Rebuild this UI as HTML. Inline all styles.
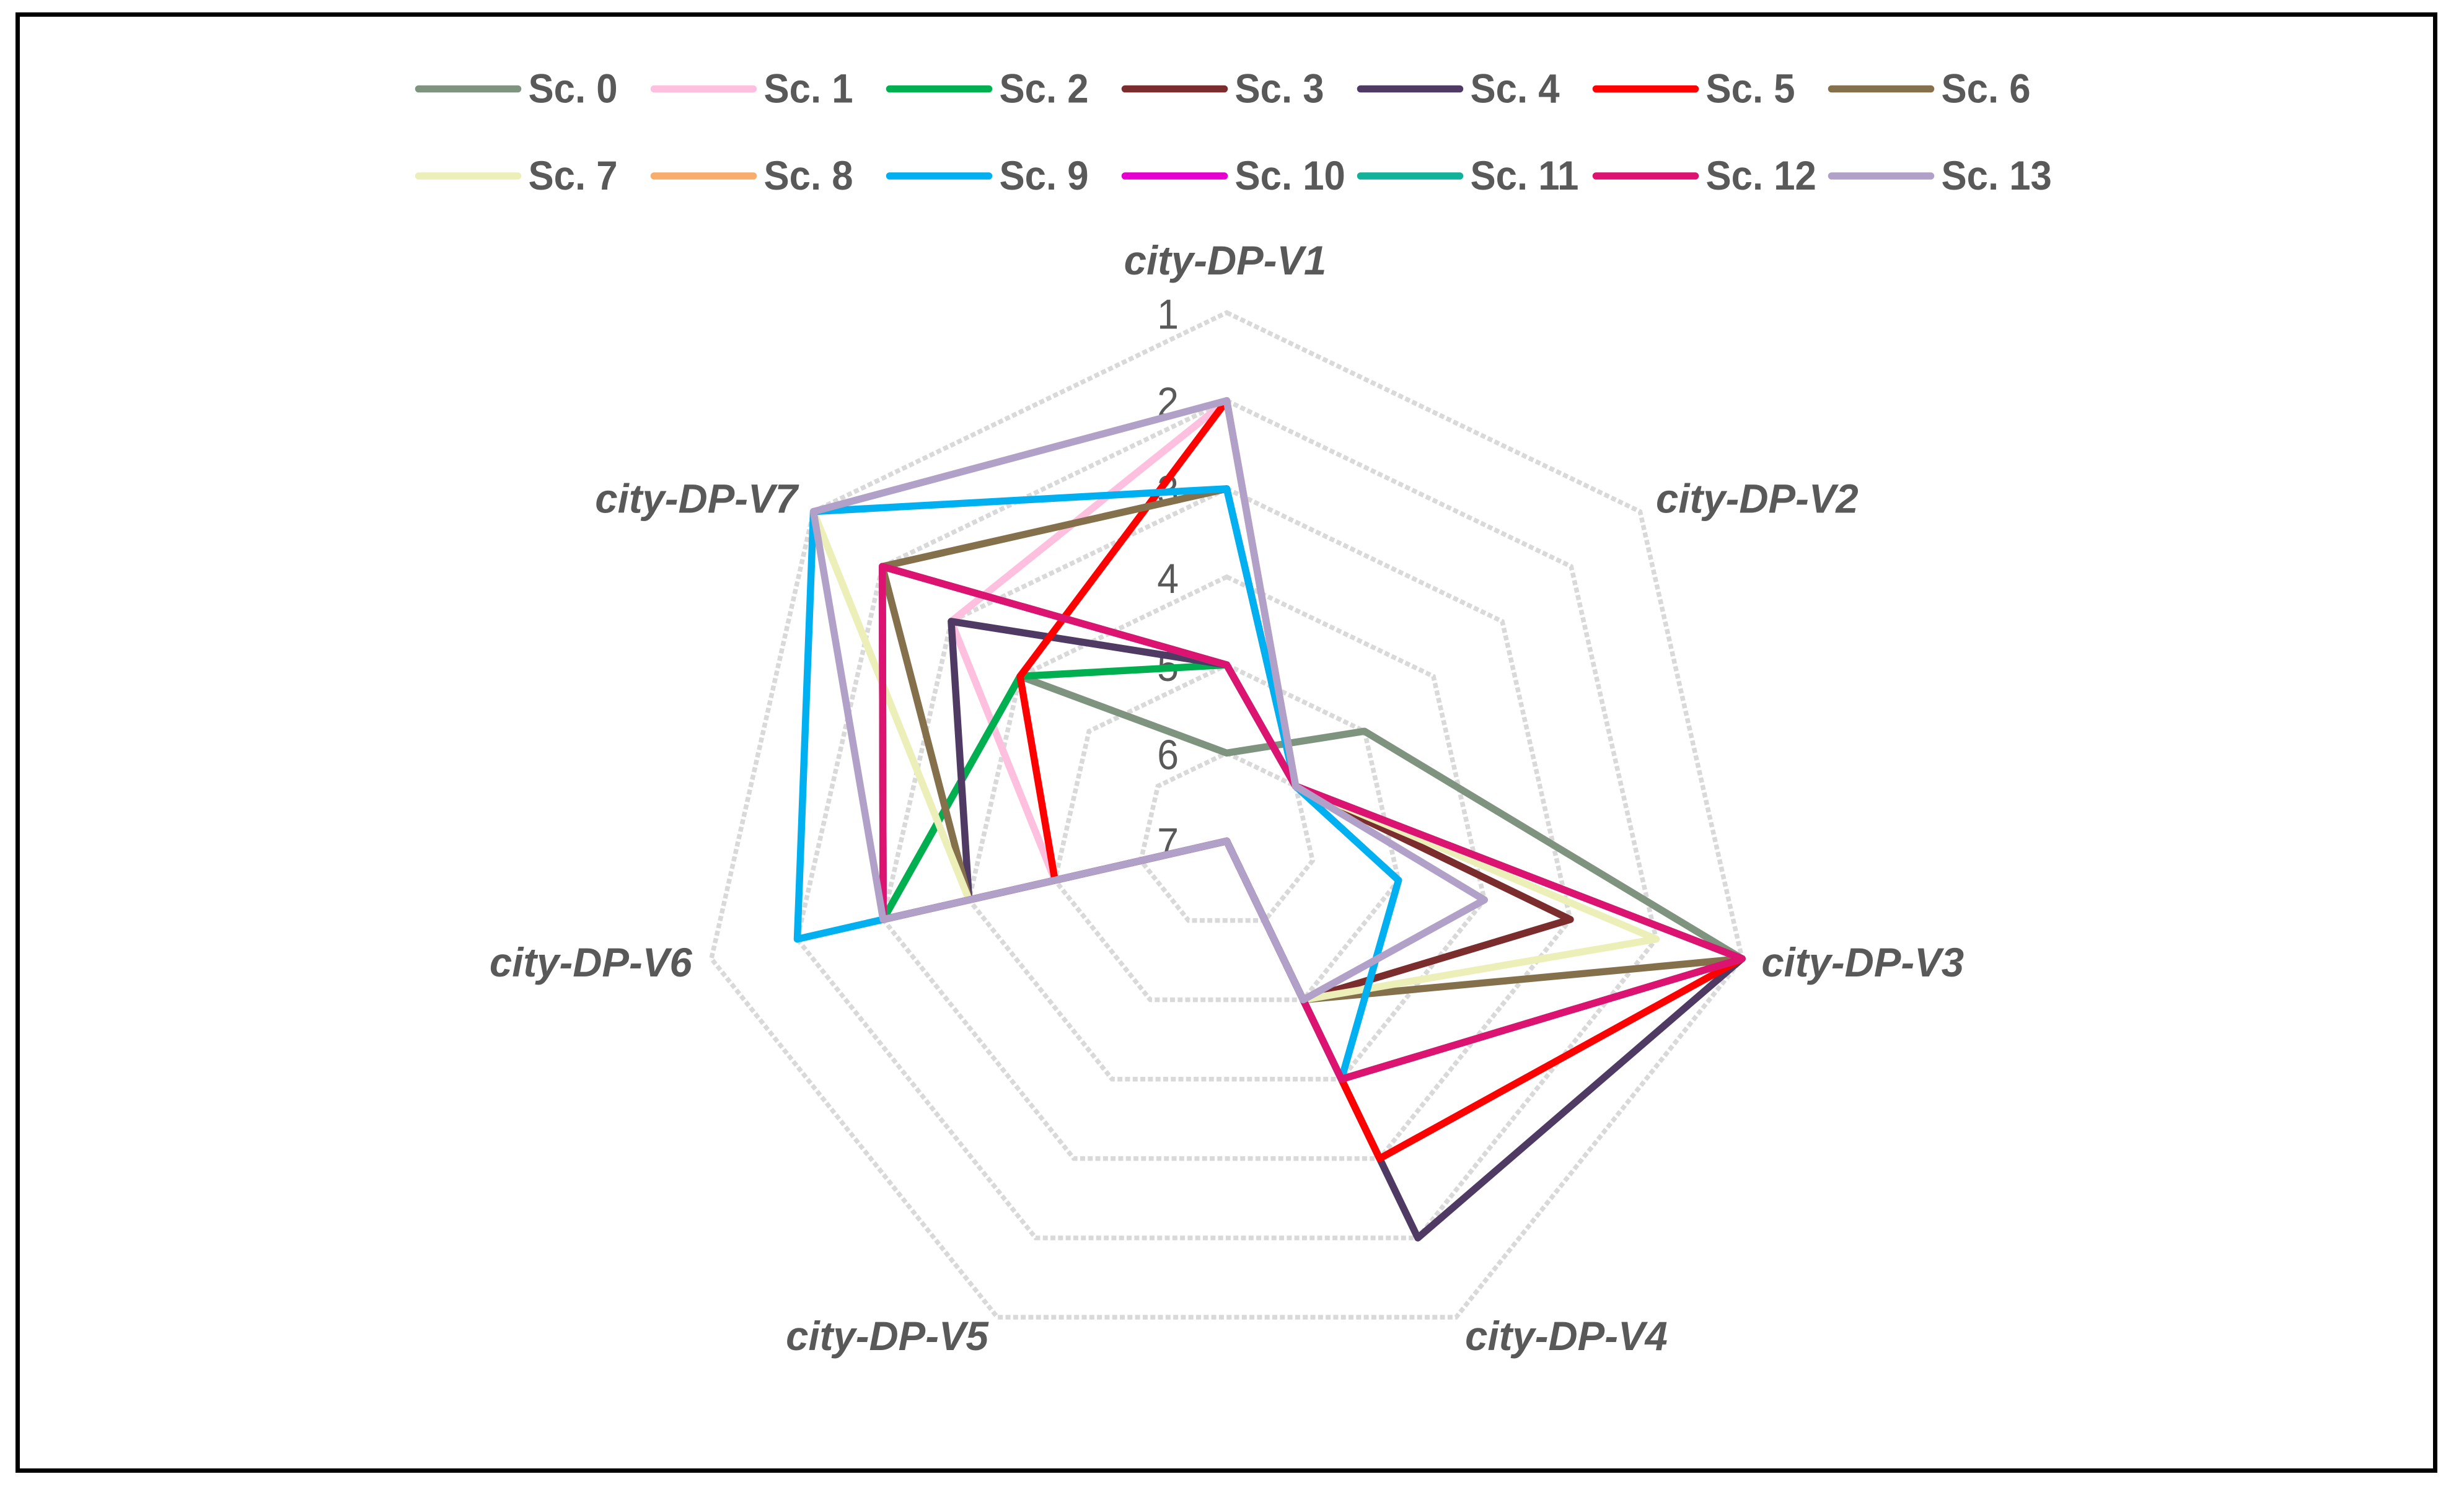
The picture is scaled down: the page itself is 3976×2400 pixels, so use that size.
<!DOCTYPE html>
<html lang="en">
<head>
<meta charset="utf-8">
<title>Radar chart of city-DP variants</title>
<style>
html,body{margin:0;padding:0;background:#fff;width:3976px;height:2400px;overflow:hidden}
svg{display:block}
text{font-family:"Liberation Sans",sans-serif;fill:#595959}
</style>
</head>
<body>
<svg id="chart" xmlns="http://www.w3.org/2000/svg" width="3976" height="2400" viewBox="0 0 3976 2400">
<rect x="0" y="0" width="3976" height="2400" fill="#ffffff"/>
<rect x="28.5" y="23.5" width="3901" height="2350" fill="none" stroke="#000000" stroke-width="7"/>
<g id="grid"></g>
<g id="ticks"></g>
<g id="cats"></g>
<g id="series"></g>
<g id="legend"></g>
</svg>
<script>
const categories = ["city-DP-V1","city-DP-V2","city-DP-V3","city-DP-V4","city-DP-V5","city-DP-V6","city-DP-V7"];
const tickLabels = [1,2,3,4,5,6,7];
const seriesNames = ["Sc. 0","Sc. 1","Sc. 2","Sc. 3","Sc. 4","Sc. 5","Sc. 6","Sc. 7","Sc. 8","Sc. 9","Sc. 10","Sc. 11","Sc. 12","Sc. 13"];
const seriesColors = ["#7F947F","#FFBFDF","#00B050","#7B2C2C","#4F3A64","#FF0000","#85704C","#EDEFB9","#F8AD6C","#00B0F0","#E600CF","#10B29A","#DC1371","#B1A0C7"];
const sc0 = [6,5,1,4,7,3,4];
const sc1 = [2,6,1,3,7,5,3];
const sc2 = [5,6,1,4,7,3,4];
const sc3 = [5,6,3,5,7,3,2];
const sc4 = [5,6,1,2,7,4,3];
const sc5 = [2,6,1,3,7,5,4];
const sc6 = [3,6,1,5,7,4,2];
const sc7 = [2,6,2,5,7,4,1];
const sc8 = [5,6,1,4,7,3,2];
const sc9 = [3,6,5,4,7,2,1];
const sc10 = [5,6,1,4,7,3,2];
const sc11 = [5,6,1,4,7,3,2];
const sc12 = [5,6,1,4,7,3,2];
const sc13 = [2,6,4,5,7,3,1];
const seriesValues = [sc0,sc1,sc2,sc3,sc4,sc5,sc6,sc7,sc8,sc9,sc10,sc11,sc12,sc13];

const NS = "http://www.w3.org/2000/svg";
const CX = 1979.5, CY = 1357.5, STEP = 853 / 6, MIN = 1, MAX = 7;

function radius(v){ return (MAX - v) * STEP; }
function axisPoint(i, v){
  const a = 2 * Math.PI * i / categories.length;
  const r = radius(v);
  return [CX + r * Math.sin(a), CY - r * Math.cos(a)];
}
function pathFor(vals){
  return vals.map((v,i)=>{
    const p = axisPoint(i,v);
    return (i ? "L" : "M") + p[0].toFixed(2) + " " + p[1].toFixed(2);
  }).join(" ") + " Z";
}
function mk(tag, parent){
  const el = document.createElementNS(NS, tag);
  parent.appendChild(el);
  return el;
}

// Grid rings
const gridG = document.getElementById("grid");
tickLabels.forEach((t)=>{
  if (t === MAX) return;
  const ring = mk("path", gridG);
  
  
  ring.setAttribute("d", pathFor(categories.map(()=>t)));
  ring.setAttribute("fill", "none");
  ring.setAttribute("stroke", "#D9D9D9");
  ring.setAttribute("stroke-width", "7.5");
  ring.setAttribute("stroke-dasharray", "8 4.3");
});

// Radial tick labels
const ticksG = document.getElementById("ticks");
tickLabels.forEach((t)=>{
  const p = axisPoint(0,t);
  const el = mk("text", ticksG);
  
  
  el.setAttribute("transform", "translate(1902 " + (p[1] + 26) + ") scale(0.92 1)");
  el.setAttribute("text-anchor", "end");
  el.setAttribute("font-size", "68");
  el.textContent = t;
});

// Category labels placed relative to the outer ring
const catsG = document.getElementById("cats");
categories.forEach((c,i)=>{
  const p = axisPoint(i,MIN);
  const side = Math.sin(2*Math.PI*i/categories.length);
  let dx, dy;
  if (i === 0){ dx = -2.5; dy = -61.5; }
  else if (i === 1 || i === 6){ dx = 189; dy = 1.7; }
  else if (i === 2 || i === 5){ dx = 194.6; dy = 28.7; }
  else { dx = 177.9; dy = 53; }
  const el = mk("text", catsG);
  
  
  const lx = p[0] + (side < 0 ? -dx : dx);
  el.setAttribute("transform", "translate(" + lx + " " + (p[1] + dy) + ") scale(0.99 1)");
  el.setAttribute("text-anchor", "middle");
  el.setAttribute("font-size", "66");
  el.setAttribute("font-weight", "bold");
  el.setAttribute("font-style", "italic");
  el.textContent = c;
});

// Series
const seriesG = document.getElementById("series");
seriesValues.forEach((vals,k)=>{
  const line = mk("path", seriesG);
  
  
  line.setAttribute("d", pathFor(vals));
  line.setAttribute("fill", "none");
  line.setAttribute("stroke", seriesColors[k]);
  line.setAttribute("stroke-width", "11.5");
  line.setAttribute("stroke-linejoin", "round");
  line.setAttribute("stroke-linecap", "round");
});

// Legend
const legendG = document.getElementById("legend");
seriesNames.forEach((n,k)=>{
  const col = k % 7, row = Math.floor(k / 7);
  const x = 675.5 + col * 380, y = 143.5 + row * 140.5;
  const sw = mk("line", legendG);
  
  
  sw.setAttribute("x1", x);
  sw.setAttribute("x2", x + 160);
  sw.setAttribute("y1", y);
  sw.setAttribute("y2", y);
  sw.setAttribute("stroke", seriesColors[k]);
  sw.setAttribute("stroke-width", "11.5");
  sw.setAttribute("stroke-linecap", "round");
  const tx = mk("text", legendG);
  
  
  tx.setAttribute("transform", "translate(" + (x + 177) + " " + (y + 22) + ") scale(0.935 1)");
  tx.setAttribute("font-size", "66");
  tx.setAttribute("font-weight", "bold");
  tx.textContent = n;
});
</script>
</body>
</html>
